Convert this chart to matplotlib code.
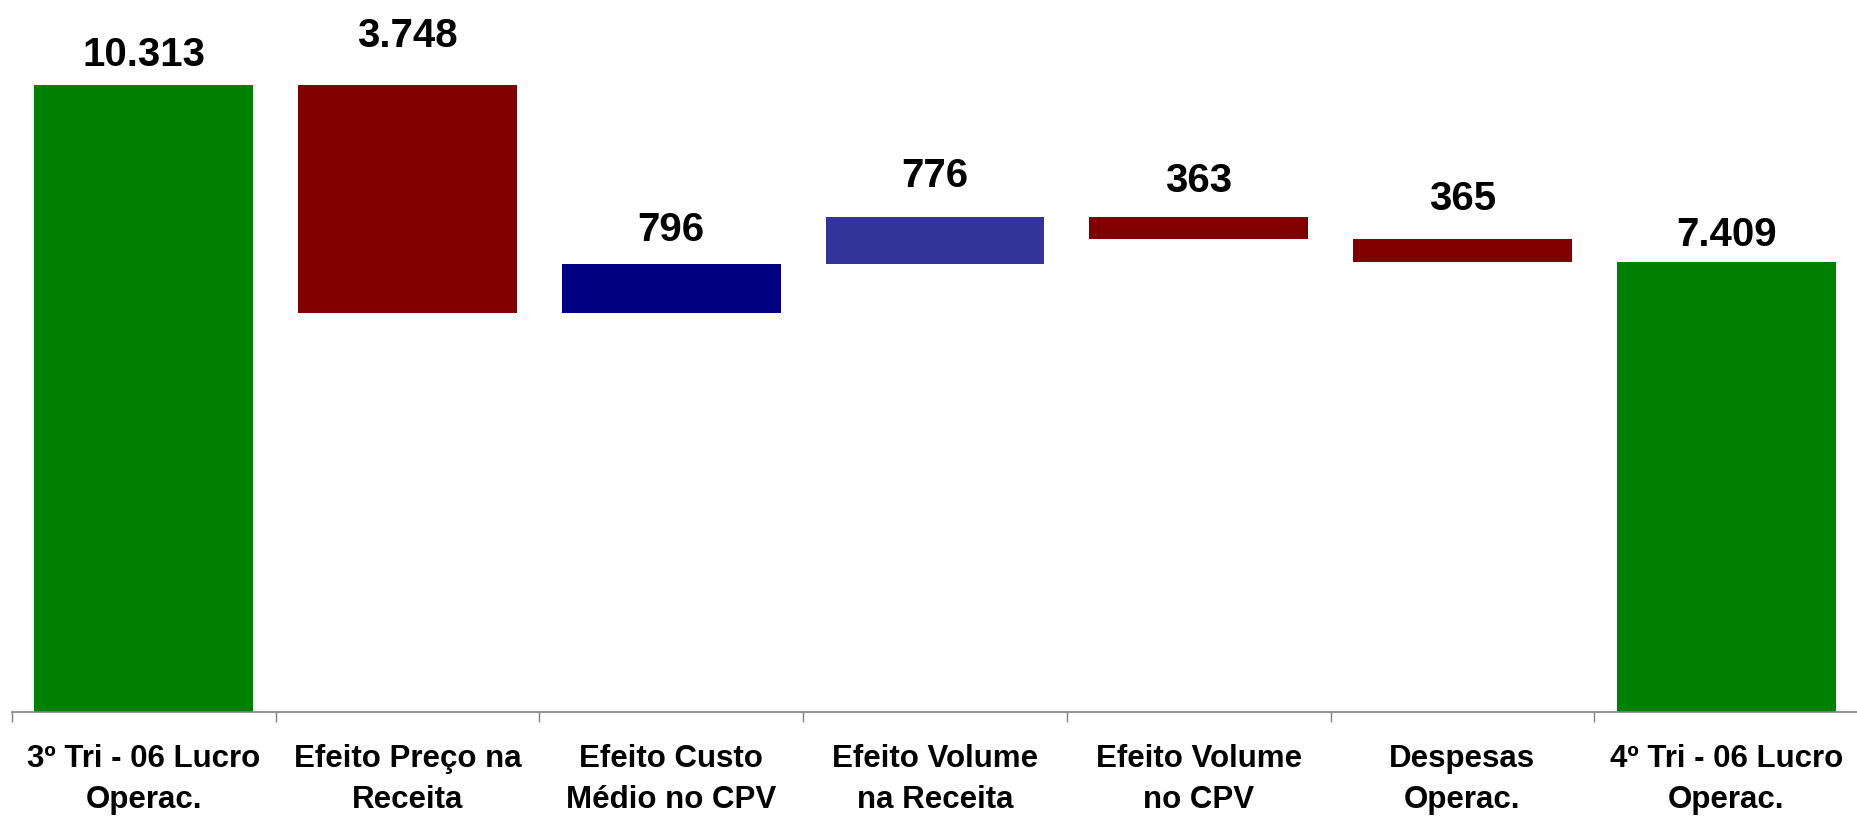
import numpy as np
import matplotlib.pyplot as plt
from matplotlib.ticker import FixedLocator

plt.rcParams['font.family'] = ['Liberation Sans', 'DejaVu Sans']

categories = ["3º Tri - 06 Lucro\nOperac.", "Efeito Preço na\nReceita",
              "Efeito Custo\nMédio no CPV", "Efeito Volume\nna Receita",
              "Efeito Volume\nno CPV", "Despesas\nOperac.",
              "4º Tri - 06 Lucro\nOperac."]
start_total = 10313
effects = [-3748, 796, 776, -363, -365]
colors = ["#008000", "#800000", "#000080", "#333399", "#800000", "#800000", "#008000"]
label_pad = [14, 27, 17, 22, 18, 21, 11]   # points above bar top

# waterfall geometry
end_total = start_total + sum(effects)
levels = np.cumsum([start_total] + effects)
heights = [start_total] + [abs(e) for e in effects] + [end_total]
bottoms = [0]
for prev, cur in zip(levels[:-1], levels[1:]):
    bottoms.append(min(prev, cur))
bottoms.append(0)
values = [start_total] + [abs(e) for e in effects] + [end_total]

def fmt(v):
    return f"{v:,}".replace(",", ".")

fig = plt.figure(figsize=(18.58, 8.19), dpi=100)
ax = fig.add_axes([12 / 1858, 107 / 819, 1846 / 1858, 712 / 819])
x = np.arange(len(categories))
bars = ax.bar(x, heights, bottom=bottoms, width=0.83, color=colors, linewidth=0)

for xi, b, h, v, p in zip(x, bottoms, heights, values, label_pad):
    ax.annotate(fmt(v), (xi, b + h), xytext=(0, p), textcoords="offset points",
                ha="center", va="baseline", fontsize=29, fontweight="bold")

ax.set_xlim(-0.5, len(categories) - 0.5)
ax.set_ylim(0, 11711)
for s in ["left", "right", "top"]:
    ax.spines[s].set_visible(False)
ax.spines["bottom"].set_color("#808080")
ax.spines["bottom"].set_linewidth(1.2)
ax.set_yticks([])

ax.set_xticks(x)
ax.set_xticklabels(categories, fontsize=22.5, fontweight="bold", linespacing=1.5)
ax.tick_params(axis="x", which="major", length=0, pad=23)
ax.xaxis.set_minor_locator(FixedLocator(np.arange(-0.5, len(categories), 1.0)))
ax.tick_params(axis="x", which="minor", length=7.5, width=1.0, color="#808080",
               direction="out")

fig.savefig("out.png", dpi=100)
